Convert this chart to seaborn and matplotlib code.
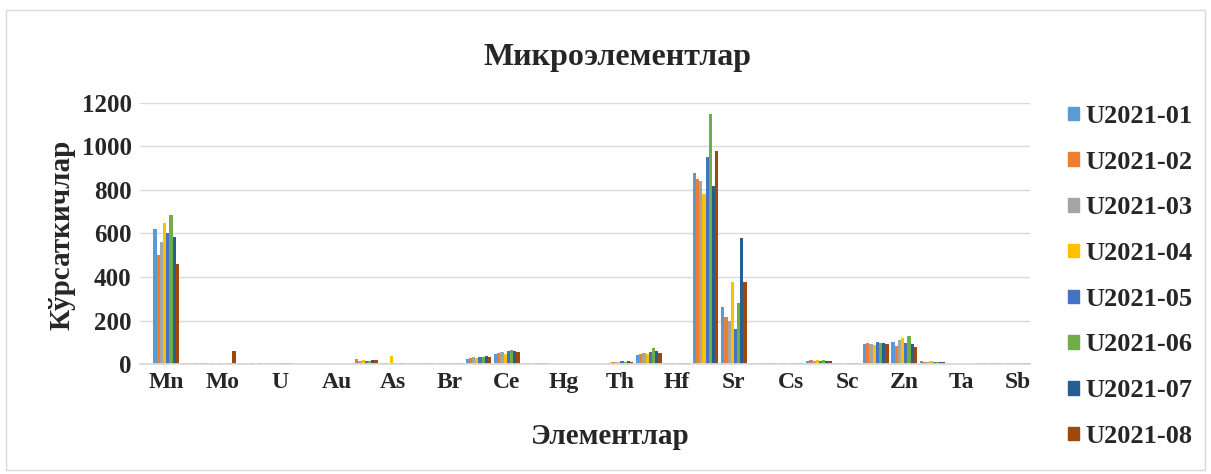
import pandas as pd
import matplotlib
matplotlib.use('Agg')
import matplotlib.pyplot as plt
import matplotlib.patches as mpatches
import seaborn as sns

# Excel-like clustered bar chart, 31 categories, every other label shown
sns.set_theme(style='white')
plt.rcParams['font.family'] = ['Liberation Serif', 'DejaVu Serif']
plt.rcParams['font.weight'] = 'bold'

# -----------------------------
# Data
# -----------------------------
elements = ['Mn', 'Co', 'Mo', 'W', 'U', 'Se', 'Au', 'Sm', 'As', 'Ni', 'Br',
            'La', 'Ce', 'Nd', 'Hg', 'Yb', 'Th', 'Rb', 'Hf', 'Ba', 'Sr', 'Eu',
            'Cs', 'Lu', 'Sc', 'Cr', 'Zn', 'Tb', 'Ta', 'Ag', 'Sb']
samples = ['U2021-01', 'U2021-02', 'U2021-03', 'U2021-04',
           'U2021-05', 'U2021-06', 'U2021-07', 'U2021-08']

u01 = [620, 4, 3, 3, 3, 2, 2, 5, 4, 3, 4, 25, 45, 3, 2, 2, 6, 40, 5, 880, 260, 3, 5, 15, 4, 90, 100, 12, 2, 3, 3]
u02 = [500, 3, 2, 2, 4, 2, 2, 22, 6, 3, 3, 28, 50, 3, 2, 2, 8, 45, 6, 850, 215, 3, 4, 18, 4, 95, 85, 10, 2, 3, 3]
u03 = [560, 5, 4, 3, 3, 2, 2, 14, 5, 3, 4, 30, 55, 3, 2, 2, 10, 50, 5, 840, 200, 3, 6, 12, 4, 92, 110, 8, 2, 3, 3]
u04 = [650, 4, 3, 2, 4, 2, 2, 18, 35, 3, 3, 26, 48, 3, 2, 2, 7, 48, 6, 780, 375, 3, 5, 20, 4, 88, 120, 14, 2, 3, 3]
u05 = [600, 3, 2, 3, 3, 2, 2, 12, 5, 3, 4, 32, 58, 3, 2, 2, 12, 55, 5, 950, 160, 3, 4, 15, 4, 100, 95, 10, 2, 3, 3]
u06 = [685, 4, 3, 2, 4, 2, 2, 15, 6, 3, 3, 30, 65, 3, 2, 2, 10, 75, 6, 1150, 280, 3, 6, 18, 4, 95, 130, 9, 2, 3, 3]
u07 = [585, 5, 5, 3, 3, 2, 2, 18, 4, 3, 4, 35, 60, 3, 2, 2, 14, 60, 5, 820, 580, 3, 5, 14, 4, 98, 90, 11, 2, 3, 3]
u08 = [460, 4, 60, 2, 4, 2, 2, 20, 5, 3, 3, 33, 55, 3, 2, 2, 9, 50, 6, 980, 375, 3, 4, 16, 4, 90, 80, 10, 2, 3, 3]

colors = ['#5B9BD5', '#ED7D31', '#A5A5A5', '#FFC000',
          '#4472C4', '#70AD47', '#255E91', '#9E480E']

series = [u01, u02, u03, u04, u05, u06, u07, u08]
rows = []
for name, vals in zip(samples, series):
    for el, v in zip(elements, vals):
        rows.append({'element': el, 'sample': name, 'value': v})
df = pd.DataFrame(rows)

# -----------------------------
# Plot
# -----------------------------
fig = plt.figure(figsize=(12.11, 4.74), dpi=100)
ax = fig.add_axes([140 / 1211, 1 - 364 / 474, (1030 - 140) / 1211, (364 - 103) / 474])

sns.barplot(data=df, x='element', y='value', hue='sample', order=elements,
            hue_order=samples, palette=colors, width=0.9, gap=0,
            saturation=1, errorbar=None, legend=False, linewidth=0, ax=ax)

ax.set_ylim(0, 1200)
ax.set_yticks(range(0, 1201, 200))
ax.set_xlim(-0.92, len(elements) - 0.57)
ax.set_xticks(range(0, len(elements), 2))
ax.set_xticklabels(elements[::2])
ax.tick_params(axis='x', length=0, labelsize=17, pad=6)
ax.tick_params(axis='y', length=0, labelsize=18, pad=6)
for lbl in ax.get_xticklabels() + ax.get_yticklabels():
    lbl.set_fontweight('bold')

ax.grid(axis='y', color='#d9d9d9', lw=1)
ax.set_axisbelow(True)
for side in ['top', 'right', 'left']:
    ax.spines[side].set_visible(False)
ax.spines['bottom'].set_color('#d9d9d9')
ax.set_xlabel('')
ax.set_ylabel('')

fig.text(617 / 1211, 1 - 57 / 474, 'Микроэлементлар', ha='center', va='center',
         fontsize=23, fontweight='bold')
fig.text(62 / 1211, 1 - 235 / 474, 'Кўрсаткичлар', ha='center', va='center',
         rotation=90, fontsize=21, fontweight='bold')
fig.text(610 / 1211, 1 - 437 / 474, 'Элементлар', ha='center', va='center',
         fontsize=21, fontweight='bold')

handles = [mpatches.Patch(color=c, label=s) for c, s in zip(colors, samples)]
fig.legend(handles=handles, loc='upper left', bbox_to_anchor=(1068 / 1211, 1 - 105 / 474),
           frameon=False, prop={'weight': 'bold', 'size': 19},
           handlelength=0.42, handleheight=0.42, handletextpad=0.25, labelspacing=0.86,
           borderaxespad=0, borderpad=0)

fig.patches.append(mpatches.Rectangle((6 / 1211, 4 / 474), 1 - 12 / 1211, 1 - 14 / 474,
                                      transform=fig.transFigure, fill=False,
                                      edgecolor='#d9d9d9', lw=1))

fig.savefig('out.png', dpi=100)
